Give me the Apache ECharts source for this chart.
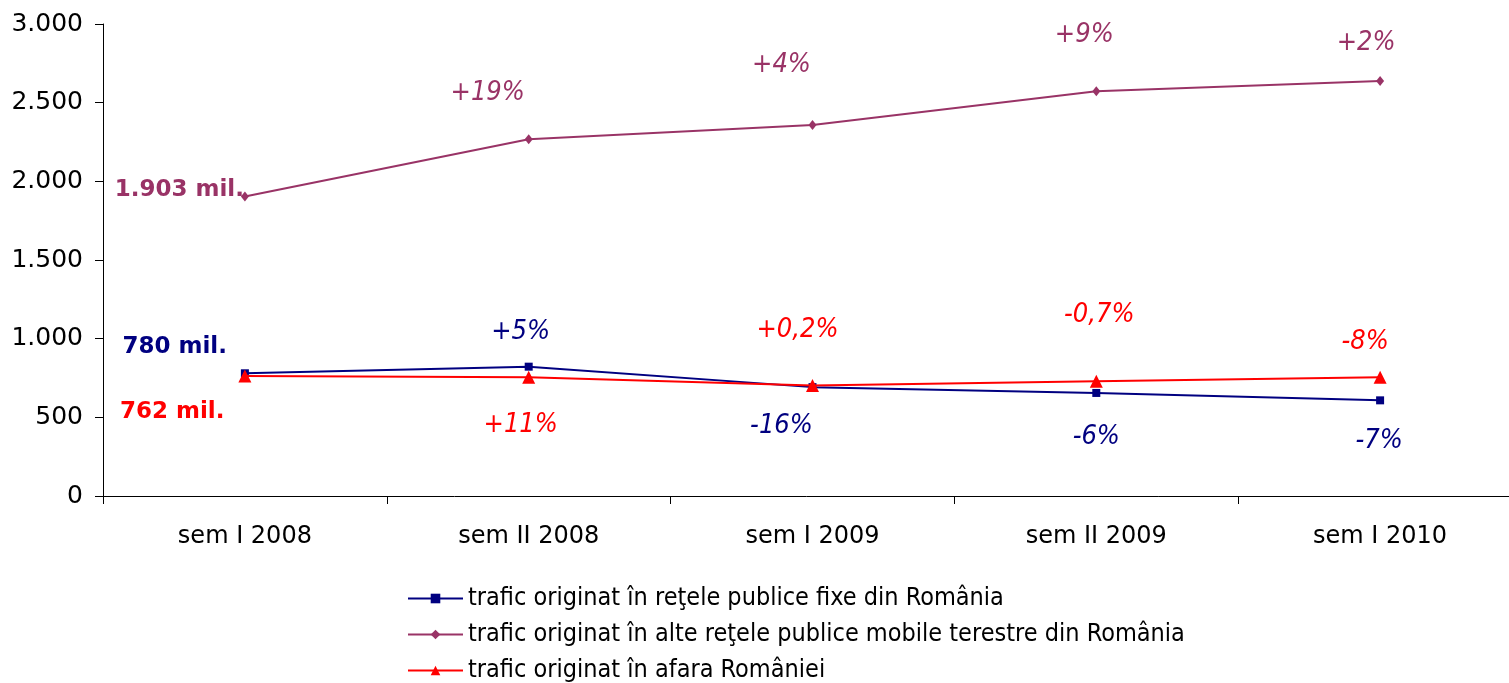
<!DOCTYPE html>
<html><head><meta charset="utf-8">
<script src="https://cdn.jsdelivr.net/npm/echarts@6/dist/echarts.min.js"></script>
<style>html,body{margin:0;padding:0;background:#fff}#c{width:1509px;height:683px}</style>
</head><body><div id="c"></div>
<script>
const categories = ['sem I 2008', 'sem II 2008', 'sem I 2009', 'sem II 2009', 'sem I 2010'];
const seriesNames = [
  'trafic originat în reţele publice fixe din România',
  'trafic originat în alte reţele publice mobile terestre din România',
  'trafic originat în afara României'
];
const fixedValues = [780, 822, 692, 655, 608];
const mobileValues = [1903, 2268, 2358, 2573, 2637];
const abroadValues = [762, 755, 703, 729, 755];
const fixedLabels = ['780 mil.', '+5%', '-16%', '-6%', '-7%'];
const mobileLabels = ['1.903 mil.', '+19%', '+4%', '+9%', '+2%'];
const abroadLabels = ['762 mil.', '+11%', '+0,2%', '-0,7%', '-8%'];
const yTicks = {min: 0, max: 3000, interval: 500};

// label placement (layout only)
const fixedOffsets = [[5, -26], [-8, -35], [-31, 39], [0, 44], [-1, 41]];
const mobileOffsets = [[6, -7], [-41, -46], [-31, -60], [-12, -56], [-14, -38]];
const abroadOffsets = [[7, 36], [-8, 48], [-15, -55], [3, -66], [-15, -35]];

const colors = ['#000080', '#993366', '#FF0000'];
const pctFont = {fontFamily: 'DejaVu Sans Condensed', fontStyle: 'italic', fontSize: 27};

function buildData(values, labels, offsets, color, firstDist) {
  return values.map((v, i) => {
    const first = i === 0;
    return {
      value: v,
      label: first ? {
        show: true, formatter: labels[i], position: 'left', distance: firstDist,
        offset: offsets[i], color: color, fontFamily: 'DejaVu Sans', fontWeight: 'bold', fontSize: 23
      } : Object.assign({
        show: true, formatter: labels[i], position: 'inside', offset: offsets[i], color: color
      }, pctFont)
    };
  });
}

const chart = echarts.init(document.getElementById('c'), null, {renderer: 'canvas'});
chart.setOption({
  animation: false,
  grid: {left: 103, top: 24, width: 1419, height: 472, outerBoundsMode: 'none', containLabel: false},
  legend: {
    orient: 'vertical', left: 407, top: 586, padding: 0, itemGap: 11, itemWidth: 55, itemHeight: 12,
    textStyle: {fontFamily: 'DejaVu Sans Condensed', fontSize: 25, color: '#000'},
    data: seriesNames
  },
  xAxis: {
    type: 'category', data: categories, boundaryGap: true,
    axisLine: {lineStyle: {color: '#000', width: 1}},
    axisTick: {show: true, length: 8, inside: false, lineStyle: {color: '#000'}},
    axisLabel: {fontFamily: 'DejaVu Sans', fontSize: 24, color: '#000', margin: 29}
  },
  yAxis: {
    type: 'value', min: yTicks.min, max: yTicks.max, interval: yTicks.interval,
    splitLine: {show: false},
    axisLine: {show: true, lineStyle: {color: '#000', width: 1}},
    axisTick: {show: true, length: 8, lineStyle: {color: '#000'}},
    axisLabel: {fontFamily: 'DejaVu Sans', fontSize: 25, color: '#000', margin: 20,
      formatter: v => v.toLocaleString('de-DE')}
  },
  series: [
    {name: seriesNames[0], type: 'line', data: buildData(fixedValues, fixedLabels, fixedOffsets, colors[0], 19),
      symbol: 'rect', symbolSize: 8, lineStyle: {color: colors[0], width: 2}, itemStyle: {color: colors[0]}, z: 3},
    {name: seriesNames[1], type: 'line', data: buildData(mobileValues, mobileLabels, mobileOffsets, colors[1], 3),
      symbol: 'diamond', symbolSize: [8, 10], lineStyle: {color: colors[1], width: 2}, itemStyle: {color: colors[1]}, z: 2},
    {name: seriesNames[2], type: 'line', data: buildData(abroadValues, abroadLabels, abroadOffsets, colors[2], 21),
      symbol: 'triangle', symbolSize: 13, lineStyle: {color: colors[2], width: 2}, itemStyle: {color: colors[2]}, z: 4}
  ]
});
</script></body></html>
